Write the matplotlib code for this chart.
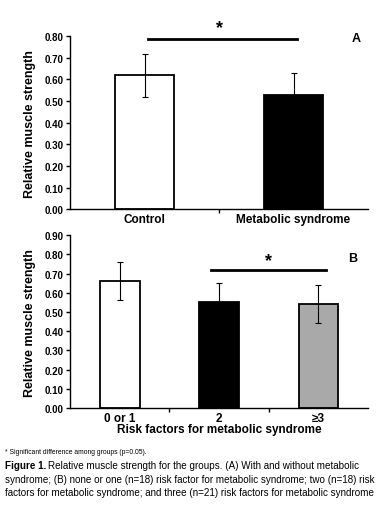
import matplotlib
matplotlib.use("Agg")
import matplotlib.pyplot as plt
import numpy as np

plt.rcParams['font.family'] = ['Liberation Sans', 'DejaVu Sans']

# Panel A data
cats_a = ['Control', 'Metabolic syndrome']
vals_a = [0.62, 0.53]
err_a = [0.10, 0.10]
colors_a = ['white', 'black']

# Panel B data
cats_b = ['0 or 1', '2', '\u22653']
vals_b = [0.66, 0.55, 0.54]
err_b = [0.10, 0.10, 0.10]
colors_b = ['white', 'black', '#a9a9a9']

yticks_a = np.arange(0, 0.81, 0.1)
yticks_b = np.arange(0, 0.91, 0.1)

fig = plt.figure(figsize=(3.87, 5.10), dpi=100)
ax_a = fig.add_axes([0.181, 0.588, 0.770, 0.339])
ax_b = fig.add_axes([0.181, 0.198, 0.770, 0.339])


def draw_panel(ax, cats, vals, errs, colors, yticks, ymax):
    x = np.arange(len(cats))
    ax.bar(x, vals, width=0.4, color=colors, edgecolor='black', linewidth=1.3, zorder=2)
    for xi, v, e, c in zip(x, vals, errs, colors):
        ax.errorbar(xi, v, yerr=e, fmt='none', ecolor='black', elinewidth=0.8,
                    capsize=2.5, capthick=0.8, zorder=1 if c == 'black' else 3)
    ax.set_xlim(-0.5, len(cats) - 0.5)
    ax.set_ylim(0, ymax)
    ax.set_yticks(yticks)
    ax.set_yticklabels([f'{t:.2f}' for t in yticks], fontsize=7, fontweight='bold')
    ax.set_xticks(x)
    ax.set_xticklabels(cats, fontsize=8.5, fontweight='bold')
    ax.tick_params(axis='x', length=0, pad=3)
    ax.tick_params(axis='y', length=3, width=1, pad=1.5)
    ax.set_xticks(np.arange(0.5, len(cats) - 0.5), minor=True)
    ax.tick_params(axis='x', which='minor', length=3, width=1)
    ax.spines['top'].set_visible(False)
    ax.spines['right'].set_visible(False)
    ax.spines['left'].set_linewidth(1)
    ax.spines['bottom'].set_linewidth(1)
    ax.set_ylabel('Relative muscle strength', fontsize=9, fontweight='bold', labelpad=6)
    ax.patch.set_alpha(0)


draw_panel(ax_a, cats_a, vals_a, err_a, colors_a, yticks_a, 0.80)
draw_panel(ax_b, cats_b, vals_b, err_b, colors_b, yticks_b, 0.90)

# significance markers
ax_a.plot([0.02, 1.02], [0.785, 0.785], color='black', lw=2, clip_on=False)
ax_a.text(0.5, 0.84, '*', ha='center', va='center', fontsize=13, fontweight='bold',
          clip_on=False)
ax_a.text(0.96, 0.99, 'A', transform=ax_a.transAxes, ha='center', va='center',
          fontsize=9, fontweight='bold')

ax_b.plot([0.92, 2.08], [0.718, 0.718], color='black', lw=2)
ax_b.text(1.5, 0.77, '*', ha='center', va='center', fontsize=13, fontweight='bold')
ax_b.text(0.95, 0.87, 'B', transform=ax_b.transAxes, ha='center', va='center',
          fontsize=9, fontweight='bold')
ax_b.set_xlabel('Risk factors for metabolic syndrome', fontsize=8.5, fontweight='bold',
                labelpad=-1)

# footnote and caption
fig.text(0.012, 0.113, '* Significant difference among groups (p=0.05).', fontsize=4.9,
         va='center')
cap_kw = dict(fontsize=7.1, va='baseline')
y1 = 1 - 469 / 510
t_bold = fig.text(0.012, y1, 'Figure 1.', fontweight='bold', **cap_kw)
renderer = fig.canvas.get_renderer()
bb = t_bold.get_window_extent(renderer).transformed(fig.transFigure.inverted())
fig.text(bb.x1 + 0.006, y1,
         'Relative muscle strength for the groups. (A) With and without metabolic', **cap_kw)
fig.text(0.012, 1 - 483 / 510,
         'syndrome; (B) none or one (n=18) risk factor for metabolic syndrome; two (n=18) risk',
         **cap_kw)
fig.text(0.012, 1 - 496 / 510,
         'factors for metabolic syndrome; and three (n=21) risk factors for metabolic syndrome',
         **cap_kw)

fig.savefig('out.png', dpi=100)
